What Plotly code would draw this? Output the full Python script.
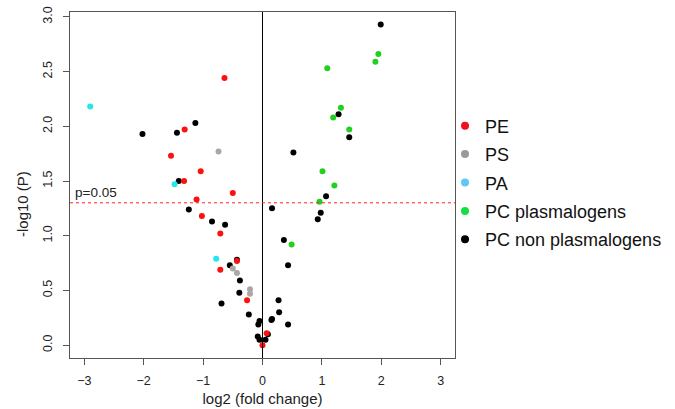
import plotly.graph_objects as go

# ---- data (log2 fold change, -log10 P) ----
pe_x = [-0.64, -1.31, -1.54, -1.04, -1.32, -0.50, -1.11, -1.02, -0.71, -0.43, -0.71, -0.26, 0.07, 0.00]
pe_y = [2.44, 1.97, 1.73, 1.59, 1.50, 1.39, 1.33, 1.18, 1.02, 0.77, 0.69, 0.41, 0.11, 0.00]

ps_x = [-0.74, -0.50, -0.43, -0.21, -0.21]
ps_y = [1.77, 0.70, 0.66, 0.51, 0.47]

pa_x = [-2.90, -1.48, -0.78]
pa_y = [2.18, 1.47, 0.79]

pcp_x = [1.95, 1.90, 1.09, 1.32, 1.19, 1.46, 1.01, 1.21, 0.96, 0.49]
pcp_y = [2.66, 2.59, 2.53, 2.17, 2.08, 1.97, 1.59, 1.46, 1.31, 0.92]

pcn_x = [1.99, 1.28, 1.46, 0.52, 1.07, 0.16, 0.98, 0.93, 0.36, 0.43, 0.27, 0.28, 0.43, 0.16,
         0.15, 0.09, 0.05, -0.05, -0.08, -0.07, -0.05, -0.23, -0.69, -0.39, -0.38, -0.55,
         -0.43, -0.63, -0.85, -1.24, -1.41, -1.44, -2.02, -1.13]
pcn_y = [2.93, 2.11, 1.90, 1.76, 1.36, 1.25, 1.21, 1.15, 0.96, 0.73, 0.41, 0.30, 0.19, 0.24,
         0.23, 0.10, 0.05, 0.05, 0.08, 0.19, 0.22, 0.28, 0.38, 0.48, 0.59, 0.73,
         0.78, 1.10, 1.13, 1.24, 1.50, 1.94, 1.93, 2.03]

x_ticks = [-3, -2, -1, 0, 1, 2, 3]
y_ticks = [0, 0.5, 1.0, 1.5, 2.0, 2.5, 3.0]
y_tick_text = ["0.0", "0.5", "1.0", "1.5", "2.0", "2.5", "3.0"]
p_threshold = 1.301  # -log10(0.05)

series = [
    ("PC non plasmalogens", pcn_x, pcn_y, "#000000", "#000000"),
    ("PC plasmalogens", pcp_x, pcp_y, "#22D022", "#10E040"),
    ("PA", pa_x, pa_y, "#22E6F2", "#5CC8F5"),
    ("PS", ps_x, ps_y, "#A8A8A8", "#9A9A9A"),
    ("PE", pe_x, pe_y, "#FF1010", "#F01020"),
]
legend_order = ["PE", "PS", "PA", "PC plasmalogens", "PC non plasmalogens"]

FONT = "Liberation Sans, Arial, Helvetica, sans-serif"
fig = go.Figure()
for name, xs, ys, col, _ in series:
    fig.add_trace(go.Scatter(x=xs, y=ys, mode="markers", name=name, showlegend=False,
                             marker=dict(size=6, color=col, line=dict(width=0))))
# legend entries
for i, nm in enumerate(legend_order):
    lc = [s[4] for s in series if s[0] == nm][0]
    fig.add_trace(go.Scatter(x=[None], y=[None], mode="markers", name=nm,
                             legendgroup=nm, legendrank=i + 1,
                             marker=dict(size=8, color=lc)))

axis_common = dict(showgrid=False, zeroline=False, showline=True, mirror=True,
                   linecolor="#555555", linewidth=1, ticks="outside", ticklen=6,
                   tickcolor="#555555", automargin=False,
                   tickfont=dict(family=FONT, size=12.5, color="#222"))

fig.update_layout(
    width=675, height=409,
    margin=dict(l=70, r=220, t=12, b=51, autoexpand=False),
    paper_bgcolor="white", plot_bgcolor="white",
    font=dict(family=FONT, color="#222"),
    xaxis=dict(range=[-3.24, 3.24], tickvals=x_ticks, ticklabelstandoff=5,
               title=dict(text="log2 (fold change)", font=dict(size=15), standoff=6),
               **axis_common),
    yaxis=dict(range=[-0.117, 3.044], tickvals=y_ticks, ticktext=y_tick_text, tickangle=-90,
               ticklabelstandoff=6, **axis_common),
    legend=dict(x=0.6593, xanchor="left", xref="container", y=0.5538, yanchor="middle",
                yref="container", traceorder="grouped",
                tracegroupgap=2, font=dict(size=18, color="#111"), bgcolor="rgba(0,0,0,0)"),
    shapes=[
        dict(type="line", x0=0, x1=0, xref="x", y0=0, y1=1, yref="y domain",
             line=dict(color="black", width=1)),
        dict(type="line", x0=0, x1=1, xref="x domain", y0=p_threshold, y1=p_threshold, yref="y",
             line=dict(color="#FF2020", width=1, dash="dot")),
    ],
    annotations=[
        dict(text="p=0.05", x=0.008, xref="x domain", y=p_threshold, yref="y",
             xanchor="left", yanchor="bottom", showarrow=False, yshift=1,
             font=dict(size=13.5, color="#222", family=FONT)),
        dict(text="-log10 (P)", x=-0.1247, xref="paper", y=0.445, yref="paper",
             xanchor="center", yanchor="middle", textangle=-90, showarrow=False,
             font=dict(size=15, color="#222", family=FONT)),
    ],
)

fig.write_html("out.html", config={"displayModeBar": False},
               post_script="document.body.style.margin='0px';")
